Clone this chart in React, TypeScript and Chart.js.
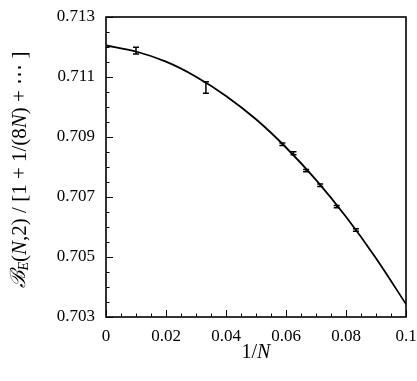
import React, { useEffect, useRef } from "react";
import { Chart, registerables } from "chart.js";

Chart.register(...registerables);

// 1/N values of the measured points
const invN = [0.01, 0.0333, 0.0588, 0.0625, 0.0667, 0.0714, 0.0769, 0.0833];
// measured ratio values
const ratio = [0.71188, 0.71065, 0.70876, 0.70846, 0.70788, 0.70739, 0.70668, 0.7059];
// error bar half-heights
const ratioErr = [0.00011, 0.00019, 0.00004, 0.00005, 0.00004, 0.00004, 0.00004, 0.00004];

// fitted curve
const curveX = [0, 0.01, 0.02, 0.03, 0.04, 0.05, 0.06, 0.07, 0.08, 0.09, 0.1];
const curveY = [0.71205, 0.71185, 0.71151, 0.71101, 0.71037, 0.70959, 0.70865, 0.70757, 0.70634, 0.70496, 0.70343];

const xTicks = [0, 0.02, 0.04, 0.06, 0.08, 0.1];
const yTicks = [0.703, 0.705, 0.707, 0.709, 0.711, 0.713];
const xMinorStep = 0.005;
const yMinorStep = 0.0005;

const SERIF = "'Liberation Serif', 'Times New Roman', Times, serif";

type Seg = { t: string; italic?: boolean; size?: number; dy?: number; fam?: string };

function drawRich(ctx: CanvasRenderingContext2D, segs: Seg[], cx: number, cy: number, rot: number, base: number) {
  ctx.save();
  ctx.translate(cx, cy);
  ctx.rotate(rot);
  ctx.fillStyle = "#000";
  ctx.textBaseline = "middle";
  ctx.textAlign = "left";
  const fontOf = (s: Seg) => `${s.italic ? "italic " : ""}${s.size ?? base}px ${s.fam ?? SERIF}`;
  let total = 0;
  const widths = segs.map((s) => {
    ctx.font = fontOf(s);
    const w = ctx.measureText(s.t).width;
    total += w;
    return w;
  });
  let x = -total / 2;
  segs.forEach((s, i) => {
    ctx.font = fontOf(s);
    ctx.fillText(s.t, x, s.dy ?? 0);
    x += widths[i];
  });
  ctx.restore();
}

const decorPlugin = {
  id: "decor",
  afterDatasetsDraw(chart: any) {
    const ctx: CanvasRenderingContext2D = chart.ctx;
    const xs = chart.scales.x;
    const ys = chart.scales.y;
    const { left, right, top, bottom } = chart.chartArea;
    ctx.save();
    ctx.strokeStyle = "#000";
    // error bars
    ctx.lineWidth = 1.5;
    invN.forEach((xv, i) => {
      const px = xs.getPixelForValue(xv);
      const y1 = ys.getPixelForValue(ratio[i] + ratioErr[i]);
      const y2 = ys.getPixelForValue(ratio[i] - ratioErr[i]);
      ctx.beginPath();
      ctx.moveTo(px, y1);
      ctx.lineTo(px, y2);
      ctx.moveTo(px - 3, y1);
      ctx.lineTo(px + 3, y1);
      ctx.moveTo(px - 3, y2);
      ctx.lineTo(px + 3, y2);
      ctx.stroke();
    });
    // ticks
    ctx.lineWidth = 1;
    const yMin = yTicks[0];
    const yMax = yTicks[yTicks.length - 1];
    for (let k = 0; yMin + k * yMinorStep <= yMax + 1e-9; k++) {
      const v = yMin + k * yMinorStep;
      const major = yTicks.some((t) => Math.abs(t - v) < 1e-9);
      const py = Math.round(ys.getPixelForValue(v)) + 0.5;
      ctx.beginPath();
      ctx.moveTo(left, py);
      ctx.lineTo(left + (major ? 7 : 3.5), py);
      ctx.stroke();
    }
    const xMin = xTicks[0];
    const xMax = xTicks[xTicks.length - 1];
    for (let k = 0; xMin + k * xMinorStep <= xMax + 1e-9; k++) {
      const v = xMin + k * xMinorStep;
      const major = xTicks.some((t) => Math.abs(t - v) < 1e-9);
      const px = Math.round(xs.getPixelForValue(v)) + 0.5;
      ctx.beginPath();
      ctx.moveTo(px, bottom);
      ctx.lineTo(px, bottom - (major ? 7 : 3.5));
      ctx.stroke();
    }
    // frame
    ctx.lineWidth = 1.6;
    ctx.strokeRect(left, top, right - left, bottom - top);
    ctx.restore();

    // axis titles
    drawRich(ctx, [{ t: "1/" }, { t: "N", italic: true }], (left + right) / 2, 353, 0, 20);
    drawRich(
      ctx,
      [
        { t: "ℬ", italic: true, size: 21, fam: "'DejaVu Serif', serif" },
        { t: "E", italic: true, size: 14, dy: 4 },
        { t: "(" },
        { t: "N", italic: true },
        { t: ",2) / [1 + 1/(8" },
        { t: "N", italic: true },
        { t: ") + ⋯ ]" },
      ],
      20,
      170,
      -Math.PI / 2,
      21
    );
  },
};

export default function App() {
  const ref = useRef<HTMLCanvasElement | null>(null);
  useEffect(() => {
    if (!ref.current) return;
    let chart: any = null;
    let cancelled = false;
    const make = () => {
      if (cancelled || !ref.current) return;
      chart = new Chart(ref.current, {
        type: "line",
        data: {
          datasets: [
            {
              data: curveX.map((x, i) => ({ x, y: curveY[i] })),
              borderColor: "#000",
              borderWidth: 1.8,
              pointRadius: 0,
              cubicInterpolationMode: "monotone",
              fill: false,
            },
          ],
        },
        options: {
          responsive: false,
          animation: false,
          layout: { padding: { top: 17, right: 11, left: 0, bottom: 0 } },
          plugins: { legend: { display: false }, tooltip: { enabled: false }, title: { display: false } },
          scales: {
            x: {
              type: "linear",
              min: 0,
              max: 0.1,
              afterBuildTicks: (s: any) => {
                s.ticks = xTicks.map((v) => ({ value: v }));
              },
              afterFit: (s: any) => {
                s.height = 64;
                s.paddingLeft = 0;
                s.paddingRight = 0;
              },
              grid: { display: false, drawTicks: false },
              border: { display: false },
              ticks: {
                padding: 9,
                color: "#000",
                font: { family: SERIF, size: 17 },
                maxRotation: 0,
                callback: (v: any) => String(Number(v)),
              },
            },
            y: {
              type: "linear",
              min: 0.703,
              max: 0.713,
              afterBuildTicks: (s: any) => {
                s.ticks = yTicks.map((v) => ({ value: v }));
              },
              afterFit: (s: any) => {
                s.width = 106;
                s.paddingTop = 0;
                s.paddingBottom = 0;
              },
              grid: { display: false, drawTicks: false },
              border: { display: false },
              ticks: {
                padding: 11,
                color: "#000",
                font: { family: SERIF, size: 17 },
                callback: (v: any) => Number(v).toFixed(3),
              },
            },
          },
        },
        plugins: [decorPlugin],
      } as any);
    };
    const fonts: any = (document as any).fonts;
    if (fonts && fonts.load) {
      Promise.all([
        fonts.load("17px 'Liberation Serif'"),
        fonts.load("italic 17px 'Liberation Serif'"),
        fonts.load("italic 21px 'DejaVu Serif'"),
      ])
        .catch(() => null)
        .then(make);
    } else {
      make();
    }
    return () => {
      cancelled = true;
      if (chart) chart.destroy();
    };
  }, []);
  return (
    <canvas
      ref={ref}
      width={417}
      height={381}
      style={{ position: "absolute", left: 0, top: 0, width: 417, height: 381, background: "#fff" }}
    />
  );
}
